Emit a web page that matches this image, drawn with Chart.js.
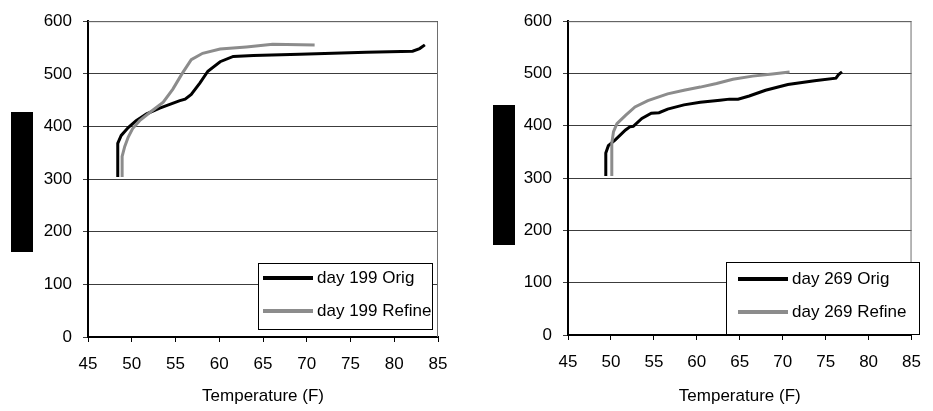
<!DOCTYPE html>
<html>
<head>
<meta charset="utf-8">
<script src="https://cdn.jsdelivr.net/npm/chart.js@4"></script>
<style>
body { margin: 0; background: #fff; width: 933px; height: 411px; overflow: hidden; position: relative; }
.wrap { position: absolute; top: 0; }
.bar { position: absolute; background: #000; width: 22px; height: 140px; }
</style>
</head>
<body>
<div class="wrap" style="left:0;"><canvas id="c199" width="466" height="411"></canvas></div>
<div class="wrap" style="left:466px;"><canvas id="c269" width="467" height="411"></canvas></div>
<div class="bar" style="left:11px;top:112px;"></div>
<div class="bar" style="left:493px;top:105px;"></div>
<script>
// values
const tempTicks = [45, 50, 55, 60, 65, 70, 75, 80, 85];
const valueTicks = [0, 100, 200, 300, 400, 500, 600];

const day199OrigTemp = [48.4, 48.4, 48.8, 49.6, 50.5, 51.7, 53.2, 55.5, 56.1, 56.8, 57.8, 58.7, 60.1, 61.6, 63.9, 69.2, 76.8, 82.1, 82.9, 83.5];
const day199OrigVal  = [304, 368, 383, 398, 411, 424, 435, 449, 452, 461, 483, 505, 523, 533, 535, 537, 541, 543, 548, 555];
const day199RefTemp  = [48.9, 48.9, 49.2, 49.6, 50.1, 50.9, 52.1, 53.6, 54.7, 55.7, 56.8, 58.1, 60.1, 63.1, 66.1, 70.9];
const day199RefVal   = [304, 343, 362, 380, 396, 411, 427, 446, 471, 499, 527, 539, 547, 551, 556, 555];

const day269OrigTemp = [49.4, 49.4, 49.7, 50.5, 51.7, 52.2, 52.6, 53.6, 54.7, 55.6, 56.6, 58.5, 60.4, 62.7, 63.8, 64.8, 66.1, 68.0, 70.6, 73.7, 76.2, 76.5, 76.9];
const day269OrigVal  = [304, 348, 362, 373, 392, 398, 399, 414, 424, 425, 432, 440, 445, 449, 451, 451, 457, 468, 479, 486, 491, 498, 503];
const day269RefTemp  = [50.1, 50.1, 50.3, 50.7, 51.7, 52.8, 54.3, 56.6, 58.5, 60.4, 62.3, 64.2, 66.5, 68.8, 70.8];
const day269RefVal   = [304, 367, 389, 404, 420, 436, 448, 461, 468, 474, 481, 489, 495, 499, 503];

const FONT = '"Liberation Sans", Arial, sans-serif';
const FONT_SIZE = 17;

function toPoints(xs, ys) {
    return xs.map((x, i) => ({ x: x, y: ys[i] }));
}

// top/right frame of the plot area
const framePlugin = {
    id: 'frame',
    beforeDatasetsDraw(chart) {
        const a = chart.chartArea, ctx = chart.ctx;
        ctx.save();
        ctx.strokeStyle = '#6e6e6e';
        ctx.lineWidth = 1;
        ctx.beginPath();
        ctx.moveTo(a.left, a.top + 0.5);
        ctx.lineTo(a.right - 0.5, a.top + 0.5);
        ctx.lineTo(a.right - 0.5, a.bottom);
        ctx.stroke();
        ctx.restore();
    }
};

// legend box drawn inside the plot area, like the original
const boxLegend = {
    id: 'boxLegend',
    afterDatasetsDraw(chart, args, opts) {
        const ctx = chart.ctx;
        ctx.save();
        ctx.fillStyle = '#fff';
        ctx.fillRect(opts.x, opts.y, opts.w, opts.h);
        ctx.strokeStyle = '#000';
        ctx.lineWidth = 1;
        ctx.strokeRect(opts.x + 0.5, opts.y + 0.5, opts.w, opts.h);
        ctx.font = FONT_SIZE + 'px ' + FONT;
        ctx.textBaseline = 'middle';
        chart.data.datasets.forEach((ds, i) => {
            const y = opts.y + opts.rows[i];
            ctx.strokeStyle = ds.borderColor;
            ctx.lineWidth = 4;
            ctx.beginPath();
            ctx.moveTo(opts.x + opts.line0, y);
            ctx.lineTo(opts.x + opts.line1, y);
            ctx.stroke();
            ctx.fillStyle = '#000';
            ctx.fillText(ds.label, opts.x + opts.text, y);
        });
        ctx.restore();
    }
};

function makeChart(id, day, origT, origV, refT, refV, geo) {
    const ctx = document.getElementById(id).getContext('2d');
    return new Chart(ctx, {
        type: 'line',
        data: {
            datasets: [
                {
                    label: 'day ' + day + ' Orig',
                    data: toPoints(origT, origV),
                    borderColor: '#000000',
                    borderWidth: 3,
                    pointRadius: 0,
                    tension: 0,
                    order: 2
                },
                {
                    label: 'day ' + day + ' Refine',
                    data: toPoints(refT, refV),
                    borderColor: '#8c8c8c',
                    borderWidth: 3,
                    pointRadius: 0,
                    tension: 0,
                    order: 1
                }
            ]
        },
        options: {
            responsive: false,
            animation: false,
            layout: { padding: { top: 16, right: geo.padRight, left: 0, bottom: 0 } },
            plugins: {
                legend: { display: false },
                tooltip: { enabled: false },
                boxLegend: geo.legend
            },
            scales: {
                x: {
                    type: 'linear',
                    min: tempTicks[0],
                    max: tempTicks[tempTicks.length - 1],
                    afterBuildTicks(scale) { scale.ticks = tempTicks.map(v => ({ value: v })); },
                    afterFit(scale) { scale.height = geo.xHeight; },
                    grid: { drawOnChartArea: false, drawTicks: true, tickLength: 5, color: '#000' },
                    border: { color: '#000', width: 2 },
                    ticks: { color: '#000', padding: 12, font: { family: FONT, size: FONT_SIZE } },
                    title: {
                        display: true,
                        text: 'Temperature (F)',
                        color: '#000',
                        padding: { top: 0, bottom: 4 },
                        font: { family: FONT, size: FONT_SIZE }
                    }
                },
                y: {
                    min: 0,
                    max: 600,
                    afterBuildTicks(scale) { scale.ticks = valueTicks.map(v => ({ value: v })); },
                    afterFit(scale) { scale.width = geo.yWidth; },
                    grid: { color: '#3c3c3c', lineWidth: 1, tickLength: 5 },
                    border: { color: '#000', width: 2 },
                    ticks: { color: '#000', padding: 11, font: { family: FONT, size: FONT_SIZE } }
                }
            }
        },
        plugins: [framePlugin, boxLegend]
    });
}

makeChart('c199', 199, day199OrigTemp, day199OrigVal, day199RefTemp, day199RefVal, {
    yWidth: 88, xHeight: 74, padRight: 28,
    legend: { x: 258, y: 263, w: 174, h: 66, rows: [15, 48], line0: 5, line1: 55, text: 59 }
});

makeChart('c269', 269, day269OrigTemp, day269OrigVal, day269RefTemp, day269RefVal, {
    yWidth: 102, xHeight: 76, padRight: 14,
    legend: { x: 260, y: 262, w: 193, h: 72, rows: [17, 50], line0: 12, line1: 62, text: 66 }
});
</script>
</body>
</html>
